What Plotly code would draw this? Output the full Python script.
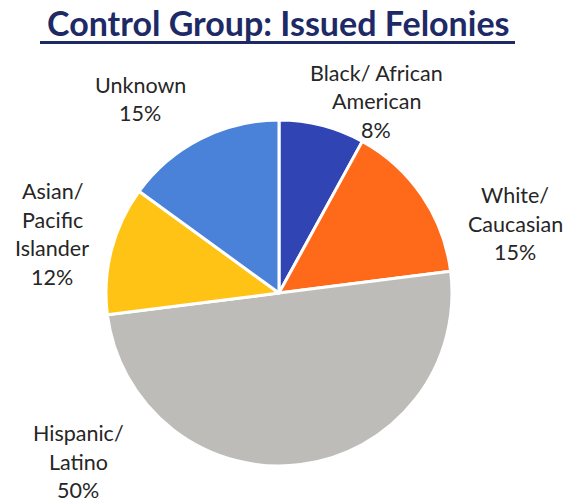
import plotly.graph_objects as go

# Felony share by race / ethnicity (control group)
categories = ["Black/ African American", "White/ Caucasian", "Hispanic/ Latino",
              "Asian/ Pacific Islander", "Unknown"]
shares = [8, 15, 50, 12, 15]
colors = ["#3044B4", "#FF6A1A", "#BEBCB9", "#FFC316", "#4A82DA"]

# label lines per slice, and where each label block sits (px from top-left)
label_lines = {
    "Black/ African American": ["Black/ African", "American"],
    "White/ Caucasian": ["White/", "Caucasian"],
    "Hispanic/ Latino": ["Hispanic/", "Latino"],
    "Asian/ Pacific Islander": ["Asian/", "Pacific", "Islander"],
    "Unknown": ["Unknown"],
}
label_pos = {
    "Black/ African American": (376, 73),
    "White/ Caucasian": (515, 195),
    "Hispanic/ Latino": (78, 433),
    "Asian/ Pacific Islander": (52, 191),
    "Unknown": (140, 85),
}

W, H = 570, 504
cx, cy, r = 279, 293, 173

fig = go.Figure(go.Pie(
    labels=categories,
    values=shares,
    sort=False,
    direction="clockwise",
    rotation=0,
    textinfo="none",
    hoverinfo="label+percent",
    marker=dict(colors=colors, line=dict(color="white", width=3)),
    domain=dict(x=[(cx - r) / W, (cx + r) / W], y=[1 - (cy + r) / H, 1 - (cy - r) / H]),
    showlegend=False,
))

line_gap = 28.5
annotations = []
for cat, val in zip(categories, shares):
    x0, y0 = label_pos[cat]
    lines = label_lines[cat] + [f"{val}%"]
    for i, txt in enumerate(lines):
        annotations.append(dict(
            x=x0 / W, y=1 - (y0 + i * line_gap) / H, xref="paper", yref="paper",
            text=txt, showarrow=False, xanchor="center", yanchor="middle",
            font=dict(family="Lato", size=21.5, color="#262626"),
        ))

annotations.append(dict(
    x=278 / W, y=1 - 23 / H, xref="paper", yref="paper",
    text="<b>Control Group: Issued Felonies</b>", showarrow=False,
    xanchor="center", yanchor="middle",
    font=dict(family="Lato", size=34, color="#1E2A66"),
))

fig.update_layout(
    width=W, height=H,
    margin=dict(l=0, r=0, t=0, b=0),
    paper_bgcolor="white", plot_bgcolor="white",
    annotations=annotations,
    shapes=[dict(
        type="line", xref="paper", yref="paper",
        x0=40 / W, x1=515 / W, y0=1 - 42.5 / H, y1=1 - 42.5 / H,
        line=dict(color="#1E2A66", width=3),
    )],
)

fig.write_html("out.html")
